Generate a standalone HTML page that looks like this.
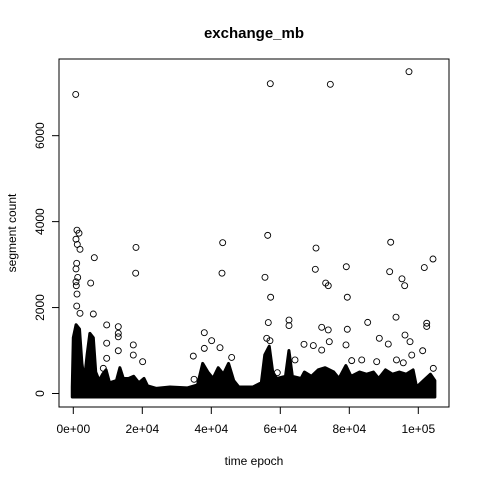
<!DOCTYPE html>
<html><head><meta charset="utf-8"><style>
body{margin:0;background:#fff}
svg{display:block;font-family:"Liberation Sans",sans-serif}
</style></head><body>
<svg id="chart" width="480" height="480">
<text x="254" y="38" text-anchor="middle" font-size="15" font-weight="bold">exchange_mb</text>
<text x="254" y="465" text-anchor="middle" font-size="12">time epoch</text>
<text transform="translate(16,233) rotate(-90)" text-anchor="middle" font-size="12">segment count</text>
<rect x="59" y="59" width="390" height="348" fill="none" stroke="#000" stroke-width="1"/>
<g id="xaxis"></g>
<g id="yaxis"></g>
<g id="band"></g>
<g id="pts"></g>
</svg>
<script>
const xTicks=[0,20000,40000,60000,80000,100000];
const xTickLabels=["0e+00","2e+04","4e+04","6e+04","8e+04","1e+05"];
const yTicks=[0,2000,4000,6000];
const yTickLabels=["0","2000","4000","6000"];
const bandX=[-300,0,800,1800,2500,3200,4000,4800,5800,6500,7500,8500,9500,10500,12500,13500,14500,16000,17500,19000,20500,21500,24000,28000,33000,36000,37500,39000,40500,42000,43500,45000,46500,48000,52000,54500,55500,56800,57800,59000,61500,62500,63500,66000,67000,69000,71000,73000,75500,77000,79000,80500,83000,85000,87000,88500,90500,92500,94500,96500,98500,99500,101500,103500,104800];
const bandY=[150,1300,1600,1500,700,300,900,1400,1300,500,300,450,550,250,300,600,350,350,400,250,350,180,120,150,130,200,700,500,350,600,450,700,300,150,150,250,900,1100,500,350,400,1000,400,350,500,400,550,600,500,350,650,400,500,450,500,350,550,450,500,450,550,150,300,450,300];
const ptX=[700,1070,1650,780,1160,1940,6090,980,780,1270,780,5040,870,1070,18170,18080,43300,43100,57100,74500,97300,56350,70350,92000,104260,101740,79130,70150,91700,55560,73150,73900,95270,96050,57200,79420,990,1940,5800,9680,13040,13040,13040,9680,13040,17390,17390,9680,8700,20100,37970,40100,42520,34780,37970,45900,35000,56520,62520,62520,72000,73900,79420,85330,93540,102440,102440,56060,57000,66870,69570,72000,74200,79040,88700,91300,96140,97600,101270,93680,95650,98100,83600,87940,80700,64260,59130,104350];
const ptY=[6960,3800,3730,3590,3470,3355,3160,3030,2900,2700,2600,2570,2510,2315,3400,2800,3510,2800,7210,7195,7490,3680,3385,3520,3130,2930,2950,2890,2835,2705,2570,2510,2670,2510,2240,2240,2035,1865,1850,1595,1555,1400,1320,1170,995,1130,895,820,585,740,1415,1230,1065,870,1050,840,330,1650,1710,1580,1540,1480,1495,1655,1775,1635,1560,1285,1230,1145,1115,1010,1205,1130,1285,1150,1360,1205,995,780,715,895,780,740,765,780,485,585];
const sx=v=>73.3+v*0.00345;
const sy=v=>393.5-v*0.04297;
const NS="http://www.w3.org/2000/svg";
function mk(t,a,p){const e=document.createElementNS(NS,t);for(const k in a)e.setAttribute(k,a[k]);p.appendChild(e);return e;}
const xa=document.getElementById('xaxis'),ya=document.getElementById('yaxis');
mk('line',{x1:sx(0),x2:sx(100000),y1:407,y2:407,stroke:'#000'},xa);
xTicks.forEach((v,i)=>{
  const l=mk('line',{x1:sx(v),x2:sx(v),y1:407,y2:414,stroke:'#000'},xa);
  
  
  const t=mk('text',{x:sx(v),y:433,'text-anchor':'middle','font-size':12},xa);
  t.textContent=xTickLabels[i];
  
  
});
mk('line',{x1:59,x2:59,y1:sy(0),y2:sy(6000),stroke:'#000'},ya);
yTicks.forEach((v,i)=>{
  const l=mk('line',{x1:52,x2:59,y1:sy(v),y2:sy(v),stroke:'#000'},ya);
  
  
  const t=mk('text',{transform:`translate(44,${sy(v)}) rotate(-90)`,'text-anchor':'middle','font-size':12},ya);
  t.textContent=yTickLabels[i];
  
  
});
const band=document.getElementById('band');
let d=`M${sx(bandX[0])},${sy(-80)}`;
bandX.forEach((v,i)=>{d+=` L${sx(v)},${sy(bandY[i])}`;});
d+=` L${sx(bandX[bandX.length-1])},${sy(-80)} Z`;
const bp=mk('path',{d:d,fill:'#000',stroke:'#000','stroke-width':3,'stroke-linejoin':'round'},band);


const pts=document.getElementById('pts');
ptX.forEach((v,i)=>{
  const c=mk('circle',{cx:sx(v),cy:sy(ptY[i]),r:3,fill:'none',stroke:'#000','stroke-width':0.9},pts);
  
  
});
</script>
</body></html>
